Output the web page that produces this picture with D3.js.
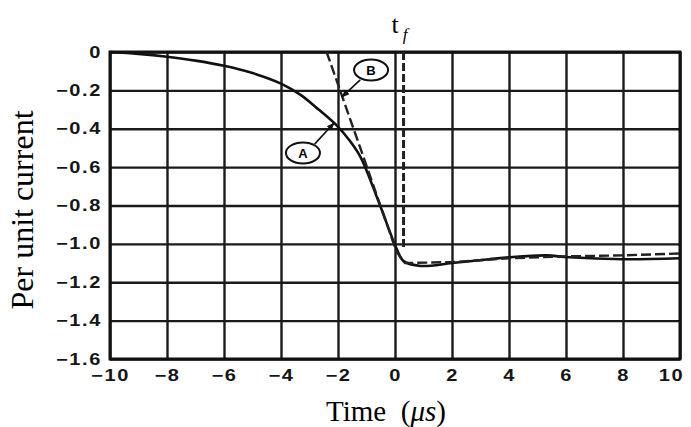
<!DOCTYPE html>
<html>
<head>
<meta charset="utf-8">
<script src="https://cdn.jsdelivr.net/npm/d3@7"></script>
<style>
  html, body { margin: 0; padding: 0; background: #fff; }
  svg { display: block; }
  .serif { font-family: "Liberation Serif", "Times New Roman", serif; fill: #000; }
</style>
</head>
<body>
<script>
// Time axis (µs) and per-unit current axis ticks
const xTicks = [-10, -8, -6, -4, -2, 0, 2, 4, 6, 8, 10];
const yTicks = [0, -0.2, -0.4, -0.6, -0.8, -1.0, -1.2, -1.4, -1.6];

// Curve A: measured current waveform
const curveA = [
  [-10, 0], [-9, -0.01], [-8, -0.025], [-7, -0.045], [-6, -0.072], [-5, -0.11],
  [-4, -0.165], [-3.3, -0.225], [-2.8, -0.285], [-2.1, -0.375], [-1.6, -0.46],
  [-1.2, -0.55], [-0.55, -0.79], [0.07, -1.03], [0.3, -1.09], [0.9, -1.115],
  [2, -1.10], [3.3, -1.08], [4, -1.07], [5.3, -1.06], [6.1, -1.07], [8, -1.08], [10, -1.075]
];

// Curve B: ramp approximation
const curveB = [
  [-2.4, 0], [-1.1, -0.55], [0.05, -1.04], [0.35, -1.10], [2, -1.095],
  [4, -1.075], [6, -1.065], [8, -1.06], [10, -1.05]
];

// Front time marker
const tf = 0.3;
const tfBottom = -1.02;

// Curve labels: ellipse centre and leader line (data units)
const labels = [
  { text: "A", cx: -3.23, cy: -0.526, x1: -2.82, y1: -0.48, x2: -2.14, y2: -0.37 },
  { text: "B", cx: -0.84, cy: -0.094, x1: -1.22, y1: -0.145, x2: -1.86, y2: -0.234 }
];

const W = 691, H = 427;
const m = { left: 110, right: 11, top: 52, bottom: 68 };
const iw = W - m.left - m.right, ih = H - m.top - m.bottom;

const svg = d3.select("body").append("svg").attr("width", W).attr("height", H);
const g = svg.append("g").attr("transform", `translate(${m.left},${m.top})`);

const x = d3.scaleLinear().domain([-10, 10]).range([0, iw]);
const y = d3.scaleLinear().domain([0, -1.6]).range([0, ih]);

const fmtY = d => d === 0 ? "0" : d3.format(".1f")(d).replace("-", "\u2212");
const fmtX = d => String(d).replace("-", "\u2212");

// Wide, bold tick lettering
function styleTicks(sel) {
  sel.attr("font-size", null).attr("font-family", null);
  sel.selectAll(".tick text")
    .attr("font-family", "Liberation Sans, Arial, sans-serif")
    .attr("font-weight", "bold")
    .attr("font-size", 16)
    .attr("letter-spacing", 1.3)
    .attr("fill", "#161616");
}

// Vertical grid lines + time labels
const gx = g.append("g").attr("transform", `translate(0,${ih})`)
  .call(d3.axisBottom(x).tickValues(xTicks).tickSize(0).tickPadding(10).tickFormat(fmtX));
gx.select(".domain").remove();
gx.selectAll(".tick line").attr("y1", -ih).attr("y2", 0).attr("stroke", "#1a1a1a").attr("stroke-width", 2.4);
styleTicks(gx);
gx.selectAll(".tick text")
  .attr("x", 0).attr("y", 0).attr("dy", "0.71em")
  .attr("transform", d => `translate(${d === 10 ? -9 : 0},11) scale(1.25,1)`);

// Horizontal grid lines + current labels
const gy = g.append("g")
  .call(d3.axisLeft(y).tickSize(0).tickValues(yTicks).tickFormat(fmtY));
gy.select(".domain").remove();
gy.selectAll(".tick line").attr("x2", iw).attr("stroke", "#1a1a1a").attr("stroke-width", 2.4);
styleTicks(gy);
gy.selectAll(".tick text")
  .attr("x", 0).attr("transform", "translate(-8,0) scale(1.25,1)");

// Frame
g.append("rect").attr("width", iw).attr("height", ih)
  .attr("fill", "none").attr("stroke", "#111").attr("stroke-width", 3);

const line = d3.line().x(d => x(d[0])).y(d => y(d[1])).curve(d3.curveCatmullRom.alpha(0.5));
const lineB = d3.line().x(d => x(d[0])).y(d => y(d[1])).curve(d3.curveLinear);

g.append("path").datum(curveA).attr("d", line)
  .attr("fill", "none").attr("stroke", "#111").attr("stroke-width", 2.6);

g.append("path").datum(curveB).attr("d", lineB)
  .attr("fill", "none").attr("stroke", "#222").attr("stroke-width", 2.4)
  .attr("stroke-dasharray", "10,4");

// t_f marker
g.append("line").attr("x1", x(tf)).attr("x2", x(tf)).attr("y1", y(0)).attr("y2", y(tfBottom))
  .attr("stroke", "#222").attr("stroke-width", 3).attr("stroke-dasharray", "8,3");

const tfLabel = svg.append("text").attr("class", "serif")
  .attr("x", m.left + x(tf) - 12).attr("y", 33).attr("font-size", 26);
tfLabel.append("tspan").text("t");
tfLabel.append("tspan").attr("font-style", "italic").attr("font-size", 17).attr("dx", 4).attr("dy", 7).text("f");

// Curve labels
svg.append("defs").append("marker").attr("id", "arr")
  .attr("viewBox", "0 0 10 10").attr("refX", 9).attr("refY", 5)
  .attr("markerWidth", 5).attr("markerHeight", 5).attr("orient", "auto")
  .append("path").attr("d", "M0,1 L10,5 L0,9 Z").attr("fill", "#111");

const lg = g.selectAll(".lbl").data(labels).join("g").attr("class", "lbl");
lg.append("line")
  .attr("x1", d => x(d.x1)).attr("y1", d => y(d.y1))
  .attr("x2", d => x(d.x2)).attr("y2", d => y(d.y2))
  .attr("stroke", "#111").attr("stroke-width", 1.6).attr("marker-end", "url(#arr)");
lg.append("ellipse").attr("cx", d => x(d.cx)).attr("cy", d => y(d.cy))
  .attr("rx", 17).attr("ry", 10.5).attr("fill", "#fff").attr("stroke", "#111").attr("stroke-width", 2);
lg.append("text").attr("x", d => x(d.cx)).attr("y", d => y(d.cy)).attr("dy", "0.36em")
  .attr("text-anchor", "middle")
  .attr("font-family", "Liberation Sans, Arial, sans-serif").attr("font-weight", "bold").attr("font-size", 13)
  .text(d => d.text);

// Axis titles
svg.append("text").attr("class", "serif").attr("font-size", 29)
  .attr("x", 386).attr("y", 421).attr("text-anchor", "middle")
  .html('Time&#160;&#160;(<tspan font-style="italic">\u03bcs</tspan>)');

svg.append("text").attr("class", "serif").attr("font-size", 32)
  .attr("transform", "translate(33,210) rotate(-90)").attr("text-anchor", "middle")
  .text("Per unit current");
</script>
</body>
</html>
